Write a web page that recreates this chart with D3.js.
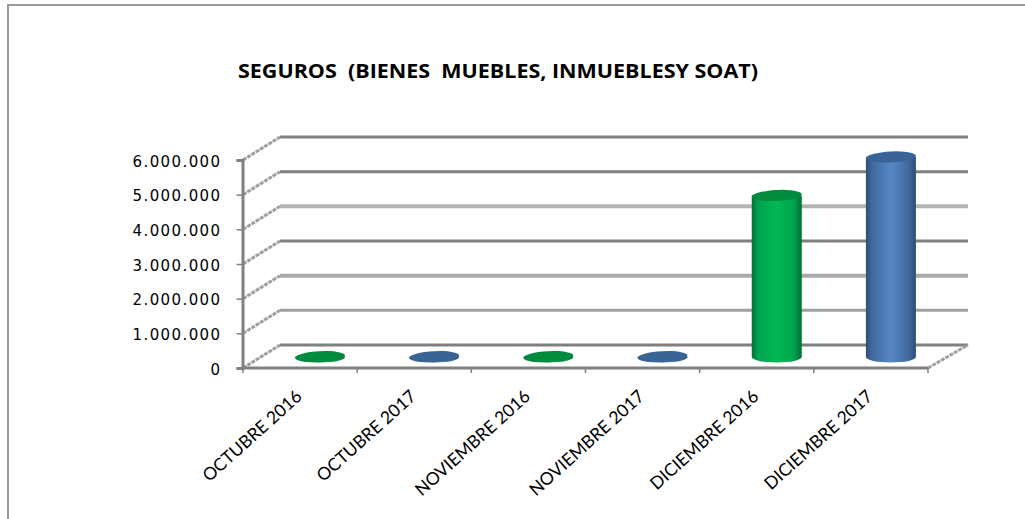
<!DOCTYPE html>
<html>
<head>
<meta charset="utf-8">
<script src="https://d3js.org/d3.v7.min.js"></script>
<style>
  html, body { margin: 0; padding: 0; background: #fff; }
  svg { display: block; }
</style>
</head>
<body>
<div id="viz"></div>
<script>
// chart values
var categories = ["OCTUBRE 2016", "OCTUBRE 2017", "NOVIEMBRE 2016", "NOVIEMBRE 2017", "DICIEMBRE 2016", "DICIEMBRE 2017"];
var values = [9000, 9000, 9000, 9000, 4660000, 5770000];
var yTicks = [0, 1000000, 2000000, 3000000, 4000000, 5000000, 6000000];
var titleText = "SEGUROS  (BIENES  MUEBLES, INMUEBLESY SOAT)";

// layout
var width = 1025;
var height = 519;
var left = 243, right = 928, top0 = 160, bottom = 368;
var depthX = 37, depthY = 23;
var rx = 25, ry = 5.5;

var svg = d3.select("#viz")
  .append("svg")
  .attr("width", width)
  .attr("height", height);

var x = d3.scaleBand().domain(categories).range([left, right]);
var y = d3.scaleLinear().domain([0, 6000000]).range([bottom, top0]);

// gradients, one per year
var defs = svg.append("defs");
function addGradient(id, edge, mid, light) {
  var g = defs.append("linearGradient").attr("id", id);
  g.append("stop").attr("offset", "0%").attr("stop-color", edge);
  g.append("stop").attr("offset", "12%").attr("stop-color", mid);
  g.append("stop").attr("offset", "50%").attr("stop-color", light);
  g.append("stop").attr("offset", "85%").attr("stop-color", mid);
  g.append("stop").attr("offset", "100%").attr("stop-color", edge);
}
addGradient("grad2016", "#006f38", "#00a24c", "#00b956");
addGradient("grad2017", "#2d4e76", "#40699d", "#5688c8");

// outer frame, only top and left show
svg.append("path")
  .attr("d", "M8,519V5H1025")
  .attr("fill", "none")
  .attr("stroke", "#9a9a9a")
  .attr("stroke-width", 2);

// title
svg.append("text")
  .attr("x", 238)
  .attr("y", 78)
  .attr("font-family", "'Open Sans'")
  .attr("font-weight", 700)
  .attr("font-size", "19px")
  .attr("textLength", 520)
  .attr("lengthAdjust", "spacingAndGlyphs")
  .attr("fill", "#000")
  .style("white-space", "pre")
  .text(titleText);

// back wall lines
var gridColor = ["#808080", "#a0a0a0", "#aaaaaa", "#808080", "#b4b4b4", "#808080", "#808080"];
var gridWidth = [3, 3, 4, 3, 4, 3, 3];
svg.append("g").selectAll("line")
  .data(yTicks)
  .enter()
  .append("line")
  .attr("x1", left + depthX)
  .attr("x2", right + 40)
  .attr("y1", function(d) { return y(d) - depthY; })
  .attr("y2", function(d) { return y(d) - depthY; })
  .attr("stroke", function(d, i) { return gridColor[i]; })
  .attr("stroke-width", function(d, i) { return gridWidth[i]; });

// side wall lines, the dotted looking ones
svg.append("g").selectAll("line")
  .data(yTicks)
  .enter()
  .append("line")
  .attr("x1", left)
  .attr("x2", left + depthX)
  .attr("y1", function(d) { return y(d); })
  .attr("y2", function(d) { return y(d) - depthY; })
  .attr("stroke", "#a0a0a0")
  .attr("stroke-width", 3)
  .attr("stroke-dasharray", "4 1");

// floor edge on the right
svg.append("line")
  .attr("x1", right)
  .attr("x2", right + 40)
  .attr("y1", bottom)
  .attr("y2", bottom - depthY)
  .attr("stroke", "#a0a0a0")
  .attr("stroke-width", 3)
  .attr("stroke-dasharray", "4 1");

// y axis
var yAxis = svg.append("g")
  .attr("transform", "translate(" + (left - 0.5) + ",0)")
  .call(d3.axisLeft(y)
    .tickValues(yTicks)
    .tickSize(6)
    .tickPadding(15)
    .tickFormat(function(d) { return d3.format(",")(d).replace(/,/g, "."); }));
yAxis.select(".domain").attr("stroke", "#808080").attr("stroke-width", 3);
yAxis.selectAll(".tick line").attr("stroke", "#808080").attr("stroke-width", 1.5);
yAxis.selectAll(".tick text")
  .attr("y", 1.5)
  .attr("font-family", "'DejaVu Sans'")
  .attr("font-size", "15px")
  .attr("letter-spacing", "1.4px")
  .attr("fill", "#000");

// x axis, ticks sit on the band edges so they are drawn by hand from the scale
var xAxis = svg.append("g")
  .attr("transform", "translate(0," + bottom + ")");
xAxis.append("line")
  .attr("x1", left)
  .attr("x2", right)
  .attr("stroke", "#808080")
  .attr("stroke-width", 3);
xAxis.selectAll(".edge")
  .data(categories.concat([null]))
  .enter()
  .append("line")
  .attr("class", "edge")
  .attr("x1", function(d, i) { return left + i * x.step(); })
  .attr("x2", function(d, i) { return left + i * x.step(); })
  .attr("y1", 0)
  .attr("y2", 5)
  .attr("stroke", "#808080")
  .attr("stroke-width", 1.5);
xAxis.selectAll("text")
  .data(categories)
  .enter()
  .append("text")
  .text(function(d) { return d; })
  .attr("text-anchor", "end")
  .attr("font-family", "Lato")
  .attr("font-size", "17.5px")
  .attr("fill", "#000")
  .attr("transform", function(d) {
    return "translate(" + (x(d) + x.bandwidth() / 2 + 3) + ",30) rotate(-42)";
  });

// cylinders
function barColor(i) { return i % 2 === 0 ? "2016" : "2017"; }
var topColor = { "2016": "#008a3e", "2017": "#3b6496" };

var bars = svg.append("g").selectAll("g")
  .data(values)
  .enter()
  .append("g")
  .attr("transform", function(d, i) {
    return "translate(" + (x(categories[i]) + x.bandwidth() / 2 + 20) + ",0)";
  });

bars.append("path")
  .attr("d", function(d) {
    var y0 = y(0) - 11, y1 = y(d) - 11;
    return "M" + (-rx) + "," + y1 + "L" + (-rx) + "," + y0 +
      "A" + rx + "," + ry + " 0 0 0 " + rx + "," + y0 +
      "L" + rx + "," + y1 + "Z";
  })
  .attr("fill", function(d, i) { return "url(#grad" + barColor(i) + ")"; });

bars.append("ellipse")
  .attr("cx", 0)
  .attr("cy", function(d) { return y(d) - 11; })
  .attr("rx", rx)
  .attr("ry", ry)
  .attr("transform", function(d) { return "rotate(-3 0 " + (y(d) - 11) + ")"; })
  .attr("fill", function(d, i) { return topColor[barColor(i)]; });
</script>
</body>
</html>
